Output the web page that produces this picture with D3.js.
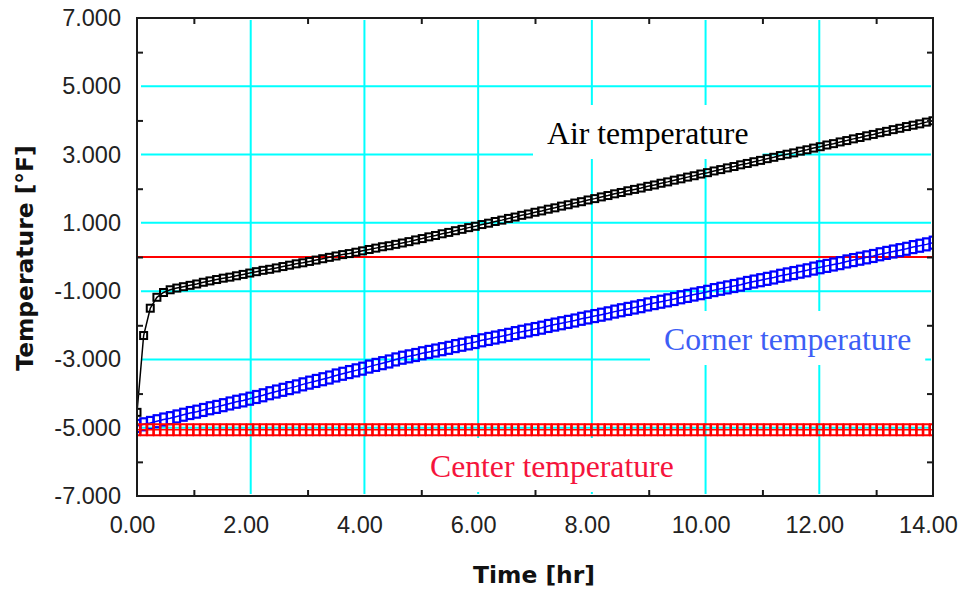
<!DOCTYPE html>
<html>
<head>
<meta charset="utf-8">
<script src="https://cdn.jsdelivr.net/npm/d3@7/dist/d3.min.js"></script>
<style>
  html, body { margin: 0; padding: 0; background: #fff; }
  svg { display: block; }
</style>
</head>
<body>
<script>
var svgWidth = 964;
var svgHeight = 599;
var plot = {left: 137, right: 933, top: 18, bottom: 496};

// elapsed time, minutes (plotted as hours)
var timeMin = [0,7,14,21,28,35,42,49,56,63,70,77,84,91,98,105,112,119,126,133,140,147,154,161,168,175,182,189,196,203,
	210,217,224,231,238,245,252,259,266,273,280,287,294,301,308,315,322,329,336,343,350,357,364,371,378,385,392,399,406,413,
	420,427,434,441,448,455,462,469,476,483,490,497,504,511,518,525,532,539,546,553,560,567,574,581,588,595,602,609,616,623,
	630,637,644,651,658,665,672,679,686,693,700,707,714,721,728,735,742,749,756,763,770,777,784,791,798,805,812,819,826,833,840];

var airTemp = [-4.55,-2.30,-1.50,-1.18,-1.04,-0.96,-0.91,-0.87,-0.83,-0.79,-0.74,-0.70,-0.66,-0.62,-0.59,-0.55,-0.51,-0.47,-0.43,-0.39,
	-0.36,-0.32,-0.28,-0.24,-0.20,-0.17,-0.13,-0.09,-0.05,-0.01,0.03,0.07,0.10,0.14,0.18,0.22,0.26,0.30,0.33,0.37,
	0.41,0.45,0.50,0.54,0.59,0.63,0.68,0.72,0.77,0.81,0.86,0.90,0.95,0.99,1.04,1.08,1.13,1.17,1.22,1.26,
	1.31,1.35,1.40,1.44,1.49,1.53,1.58,1.62,1.67,1.71,1.76,1.80,1.85,1.89,1.94,1.98,2.02,2.07,2.11,2.16,
	2.20,2.25,2.29,2.34,2.38,2.43,2.47,2.52,2.56,2.61,2.65,2.70,2.74,2.79,2.83,2.88,2.92,2.97,3.01,3.05,
	3.10,3.14,3.19,3.23,3.28,3.32,3.37,3.41,3.46,3.50,3.55,3.59,3.64,3.68,3.73,3.77,3.82,3.86,3.90,3.95,3.99];

var cornerTemp = [-4.95,-4.90,-4.86,-4.81,-4.76,-4.72,-4.67,-4.62,-4.57,-4.53,-4.48,-4.43,-4.39,-4.34,-4.29,-4.24,-4.20,-4.15,-4.10,-4.05,
	-3.99,-3.94,-3.89,-3.84,-3.79,-3.73,-3.68,-3.63,-3.58,-3.53,-3.47,-3.42,-3.37,-3.32,-3.27,-3.21,-3.16,-3.11,-3.06,-3.00,
	-2.95,-2.91,-2.87,-2.82,-2.78,-2.74,-2.70,-2.66,-2.61,-2.57,-2.53,-2.49,-2.44,-2.40,-2.36,-2.32,-2.28,-2.23,-2.19,-2.15,
	-2.11,-2.07,-2.02,-1.98,-1.94,-1.90,-1.86,-1.81,-1.77,-1.73,-1.69,-1.65,-1.60,-1.56,-1.52,-1.48,-1.44,-1.39,-1.35,-1.31,
	-1.27,-1.23,-1.18,-1.14,-1.10,-1.06,-1.02,-0.97,-0.93,-0.89,-0.85,-0.81,-0.76,-0.72,-0.68,-0.64,-0.60,-0.55,-0.51,-0.47,
	-0.43,-0.39,-0.34,-0.30,-0.26,-0.22,-0.18,-0.13,-0.09,-0.05,-0.01,0.03,0.08,0.12,0.16,0.20,0.24,0.29,0.33,0.37,0.42];

var centerTemp = [-5.06,-5.06,-5.06,-5.06,-5.06,-5.06,-5.06,-5.06,-5.06,-5.06,-5.06,-5.06,-5.06,-5.06,-5.06,-5.06,-5.06,-5.06,-5.06,-5.06,
	-5.06,-5.06,-5.06,-5.06,-5.06,-5.06,-5.06,-5.06,-5.06,-5.06,-5.06,-5.06,-5.06,-5.06,-5.06,-5.06,-5.06,-5.06,-5.06,-5.06,
	-5.06,-5.06,-5.06,-5.06,-5.06,-5.06,-5.06,-5.06,-5.06,-5.06,-5.06,-5.06,-5.06,-5.06,-5.06,-5.06,-5.06,-5.06,-5.06,-5.06,
	-5.06,-5.06,-5.06,-5.06,-5.06,-5.06,-5.06,-5.06,-5.06,-5.06,-5.06,-5.06,-5.06,-5.06,-5.06,-5.06,-5.06,-5.06,-5.06,-5.06,
	-5.06,-5.06,-5.06,-5.06,-5.06,-5.06,-5.06,-5.06,-5.06,-5.06,-5.06,-5.06,-5.06,-5.06,-5.06,-5.06,-5.06,-5.06,-5.06,-5.06,
	-5.06,-5.06,-5.06,-5.06,-5.06,-5.06,-5.06,-5.06,-5.06,-5.06,-5.06,-5.06,-5.06,-5.06,-5.06,-5.06,-5.06,-5.06,-5.06,-5.06,-5.06];

var seriesNames = ["Air temperature", "Corner temperature", "Center temperature"];
var xTickLabels = [0, 2, 4, 6, 8, 10, 12, 14];
var yTickLabels = [7, 5, 3, 1, -1, -3, -5, -7];
var xGridValues = [2, 4, 6, 8, 10, 12];
var yGridValues = [5, 3, 1, -1, -3, -5];
var xMinorTicks = [1, 3, 5, 7, 9, 11, 13];
var yMinorTicks = [6, 4, 2, 0, -2, -4, -6];
var refLineValue = [0];

var svg = d3.select('body').append('svg')
	.attr('width', svgWidth)
	.attr('height', svgHeight);

var x = d3.scaleLinear().domain([0, 14]).range([plot.left, plot.right]);
var y = d3.scaleLinear().domain([-7, 7]).range([plot.bottom, plot.top]);
var fmt = function(p) { return function(d) { return d3.format(p)(d).replace('\u2212', '-'); }; };

svg.append('defs').append('clipPath').attr('id', 'plotClip')
	.append('rect')
	.attr('x', plot.left).attr('y', plot.top)
	.attr('width', plot.right - plot.left).attr('height', plot.bottom - plot.top);

// 网格线
var gridG = svg.append('g').attr('stroke', '#00ffff').attr('stroke-width', 2);
gridG.selectAll('line.gx').data(xGridValues).enter().append('line')
	.attr('class', 'gx')
	.attr('x1', function(d) { return x(d); }).attr('x2', function(d) { return x(d); })
	.attr('y1', plot.top + 2).attr('y2', plot.bottom - 2);
gridG.selectAll('line.gy').data(yGridValues).enter().append('line')
	.attr('class', 'gy')
	.attr('x1', plot.left + 4).attr('x2', plot.right - 2)
	.attr('y1', function(d) { return y(d); }).attr('y2', function(d) { return y(d); });

// label boxes sit above the grid
var labelPos = [
	{x: 547, y: 144, color: '#000000'},
	{x: 664, y: 350, color: '#3d5ef5'},
	{x: 430, y: 477, color: '#f5143c'}
];
var boxG = svg.append('g');
var labelG = svg.append('g');

// reference line
svg.append('g').selectAll('line').data(refLineValue).enter().append('line')
	.attr('x1', plot.left).attr('x2', plot.right)
	.attr('y1', function(d) { return y(d); }).attr('y2', function(d) { return y(d); })
	.attr('stroke', '#ff0000').attr('stroke-width', 2);

// series
var series = [
	{values: airTemp, color: '#000000', w: 7, h: 7, sw: 2},
	{values: cornerTemp, color: '#0000ff', w: 6.5, h: 12, sw: 2.2},
	{values: centerTemp, color: '#ff0000', w: 6, h: 11, sw: 2}
];
var seriesG = svg.append('g').attr('clip-path', 'url(#plotClip)');
series.forEach(function(s) {
	var pts = timeMin.map(function(t, i) { return [t / 60, s.values[i]]; });
	var line = d3.line()
		.x(function(d) { return x(d[0]); })
		.y(function(d) { return y(d[1]); });
	seriesG.append('path')
		.datum(pts)
		.attr('d', line)
		.attr('fill', 'none')
		.attr('stroke', s.color)
		.attr('stroke-width', 1.5);
	seriesG.append('g').selectAll('rect')
		.data(pts)
		.enter()
		.append('rect')
		.attr('x', function(d) { return x(d[0]) - s.w / 2; })
		.attr('y', function(d) { return y(d[1]) - s.h / 2; })
		.attr('width', s.w)
		.attr('height', s.h)
		.attr('fill', 'none')
		.attr('stroke', s.color)
		.attr('stroke-width', s.sw);
});

// frame + minor ticks
svg.append('rect')
	.attr('x', plot.left).attr('y', plot.top)
	.attr('width', plot.right - plot.left).attr('height', plot.bottom - plot.top)
	.attr('fill', 'none').attr('stroke', '#1a1a1a').attr('stroke-width', 2);

var tickAxes = [
	{axis: d3.axisBottom(x).tickValues(xMinorTicks), tr: 'translate(0,' + plot.bottom + ')'},
	{axis: d3.axisTop(x).tickValues(xMinorTicks), tr: 'translate(0,' + plot.top + ')'},
	{axis: d3.axisLeft(y).tickValues(yMinorTicks), tr: 'translate(' + plot.left + ',0)'},
	{axis: d3.axisRight(y).tickValues(yMinorTicks), tr: 'translate(' + plot.right + ',0)'}
];
tickAxes.forEach(function(a) {
	var g = svg.append('g').attr('transform', a.tr)
		.call(a.axis.tickSize(-6).tickFormat(''));
	g.select('.domain').remove();
	g.selectAll('.tick line').attr('stroke', '#1a1a1a').attr('stroke-width', 2);
});

// tick labels
var yAxisG = svg.append('g')
	.attr('transform', 'translate(' + plot.left + ',0)')
	.call(d3.axisLeft(y).tickValues(yTickLabels).tickFormat(fmt('.3f')).tickSize(0).tickPadding(16));
var xAxisG = svg.append('g')
	.attr('transform', 'translate(-5,' + plot.bottom + ')')
	.call(d3.axisBottom(x).tickValues(xTickLabels).tickFormat(fmt('.2f')).tickSize(0).tickPadding(20));
[yAxisG, xAxisG].forEach(function(g) {
	g.select('.domain').remove();
	g.selectAll('text')
		.attr('font-family', '"Liberation Sans", Arial, sans-serif')
		.attr('font-size', 23.5)
		.attr('fill', '#222');
});

// axis titles
svg.append('text')
	.attr('x', 534).attr('y', 583)
	.attr('text-anchor', 'middle')
	.attr('font-family', '"DejaVu Sans", sans-serif')
	.attr('font-weight', 'bold')
	.attr('font-size', 23.4)
	.attr('fill', '#111')
	.text('Time [hr]');
svg.append('text')
	.attr('transform', 'translate(33,258) rotate(-90)')
	.attr('text-anchor', 'middle')
	.attr('font-family', '"DejaVu Sans", sans-serif')
	.attr('font-weight', 'bold')
	.attr('font-size', 23.4)
	.attr('fill', '#111')
	.text('Temperature [°F]');

// series labels with white boxes
seriesNames.forEach(function(name, i) {
	var p = labelPos[i];
	var t = labelG.append('text')
		.attr('x', p.x).attr('y', p.y)
		.attr('font-family', '"Liberation Serif", "Times New Roman", serif')
		.attr('font-size', 31.7)
		.attr('fill', p.color)
		.text(name);
	var w = t.node().getComputedTextLength();
	boxG.append('rect')
		.attr('x', p.x - 14).attr('y', p.y - 39)
		.attr('width', w + 28).attr('height', 54)
		.attr('fill', '#fff');
});
</script>
</body>
</html>
